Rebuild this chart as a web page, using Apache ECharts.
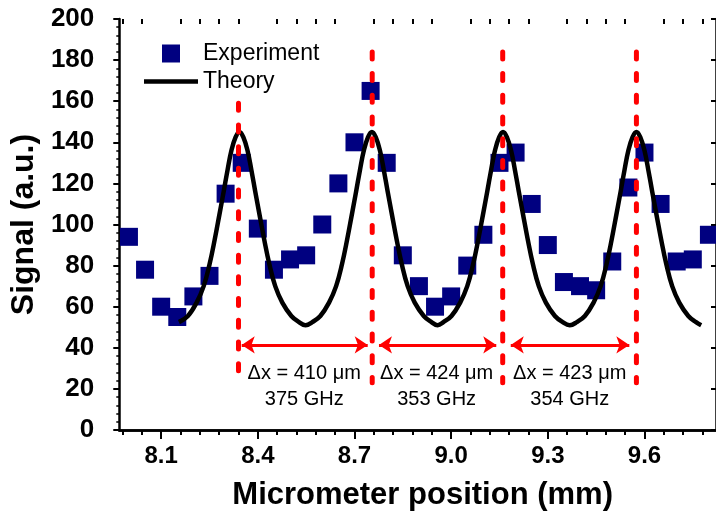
<!DOCTYPE html>
<html>
<head>
<meta charset="utf-8">
<script src="https://cdn.jsdelivr.net/npm/echarts@6/dist/echarts.min.js"></script>
<style>
  html, body { margin: 0; padding: 0; background: #ffffff; }
  #chart { width: 716px; height: 516px; }
</style>
</head>
<body>
<div id="chart"></div>
<script>
// Measured signal versus micrometer position
const positionMm = [8.00, 8.05, 8.10, 8.15, 8.20, 8.25, 8.30, 8.35, 8.40, 8.45,
                    8.50, 8.55, 8.60, 8.65, 8.70, 8.75, 8.80, 8.85, 8.90, 8.95,
                    9.00, 9.05, 9.10, 9.15, 9.20, 9.25, 9.30, 9.35, 9.40, 9.45,
                    9.50, 9.55, 9.60, 9.65, 9.70, 9.75, 9.80];
const experimentSignal = [94, 78, 60, 55, 65, 75, 115, 130, 98, 78,
                          83, 85, 100, 120, 140, 165, 130, 85, 70, 60,
                          65, 80, 95, 130, 135, 110, 90, 72, 70, 68,
                          82, 118, 135, 110, 82, 83, 95];

// Theoretical interference curve, [position (mm), signal]
const theoryCurve = [
  [8.155, 52.5], [8.183, 55.5], [8.210, 62], [8.232, 70], [8.250, 80.5], [8.266, 92.5],
  [8.281, 105], [8.294, 116], [8.306, 126.5], [8.318, 136], [8.331, 142.5], [8.343, 145],
  [8.355, 142.5], [8.368, 136], [8.380, 126.5], [8.392, 116], [8.405, 105], [8.420, 92.5],
  [8.436, 80.5], [8.454, 70], [8.476, 62], [8.504, 55.5], [8.528, 52.5], [8.548, 51],
  [8.569, 52.5], [8.594, 55.5], [8.621, 62], [8.643, 70], [8.661, 80.5], [8.677, 92.5],
  [8.692, 105], [8.705, 116], [8.717, 126.5], [8.729, 136], [8.742, 142.5], [8.754, 145],
  [8.766, 142.5], [8.779, 136], [8.791, 126.5], [8.803, 116], [8.816, 105], [8.831, 92.5],
  [8.847, 80.5], [8.865, 70], [8.887, 62], [8.915, 55.5], [8.939, 52.5], [8.958, 51],
  [8.976, 52.5], [9.001, 55.5], [9.028, 62], [9.050, 70], [9.068, 80.5], [9.084, 92.5],
  [9.099, 105], [9.112, 116], [9.124, 126.5], [9.136, 136], [9.149, 142.5], [9.161, 145],
  [9.173, 142.5], [9.186, 136], [9.198, 126.5], [9.210, 116], [9.223, 105], [9.238, 92.5],
  [9.254, 80.5], [9.272, 70], [9.294, 62], [9.322, 55.5], [9.346, 52.5], [9.368, 51],
  [9.390, 52.5], [9.415, 55.5], [9.442, 62], [9.464, 70], [9.482, 80.5], [9.498, 92.5],
  [9.513, 105], [9.526, 116], [9.538, 126.5], [9.550, 136], [9.563, 142.5], [9.575, 145],
  [9.587, 142.5], [9.600, 136], [9.612, 126.5], [9.624, 116], [9.637, 105], [9.652, 92.5],
  [9.668, 80.5], [9.686, 70], [9.708, 62], [9.736, 55.5], [9.760, 52.5], [9.776, 51]
];

// Peak markers (vertical dashed lines)
const peakX = [8.340, 8.755, 9.160, 9.575];
const peakLineTop = [159, 184, 184, 184];
const peakLineBottom = 23;

// Spacing arrows between neighbouring peaks
const arrowFrom = [8.350, 8.776, 9.185];
const arrowTo = [8.741, 9.140, 9.553];
const arrowY = 41.4;

// Spacing annotations
const noteX = [8.544, 8.955, 9.368];
const noteY = 21.4;
const noteText = ['Δx = 410 μm\n375 GHz', 'Δx = 424 μm\n353 GHz', 'Δx = 423 μm\n354 GHz'];

// Axes
const xMin = 7.97, xMax = 9.822;
const xTicks = [8.1, 8.4, 8.7, 9.0, 9.3, 9.6];
const xMinorTicks = [];
for (let v = 7.98; v < xMax; v += 0.06) {
  const r = Math.round(v * 100) / 100;
  if (!xTicks.some(t => Math.abs(t - r) < 1e-6)) xMinorTicks.push(r);
}
const yMin = 0, yMax = 200, yStep = 20;

const FONT = 'Liberation Sans, Arial, Helvetica, sans-serif';
const RED = '#ff0000';
const NAVY = '#000080';
const AXIS_LINE = { show: true, lineStyle: { color: '#000', width: 2.5 } };

const chart = echarts.init(document.getElementById('chart'), null, { renderer: 'canvas' });

const dashSeries = peakX.map((x, i) => ({
  type: 'line',
  name: 'peak' + i,
  xAxisIndex: 0, yAxisIndex: 0,
  data: [[x, peakLineTop[i]], [x, peakLineBottom]],
  symbol: 'none',
  silent: true,
  z: 5,
  lineStyle: { color: RED, width: 5, type: [7, 14.7], cap: 'round' }
}));

const option = {
  animation: false,
  textStyle: { fontFamily: FONT },
  grid: { left: 117, right: -1, top: 19, bottom: 86, containLabel: false },
  legend: {
    orient: 'vertical',
    left: 139,
    top: 37,
    itemWidth: 54,
    itemHeight: 18,
    itemGap: 5,
    selectedMode: false,
    textStyle: { fontFamily: FONT, fontSize: 23, color: '#000', lineHeight: 23 },
    data: [
      { name: 'Experiment', icon: 'path://M0,0L10,0L10,10L0,10Z', itemStyle: { color: NAVY } },
      { name: 'Theory', icon: 'path://M0,0L54,0L54,4.5L0,4.5Z', itemStyle: { color: '#000' } }
    ]
  },
  xAxis: [
    {
      type: 'value', position: 'bottom', min: xMin, max: xMax,
      axisLine: AXIS_LINE,
      axisTick: { show: true, inside: false, length: 9, customValues: xTicks, lineStyle: { color: '#000', width: 2 } },
      axisLabel: {
        show: true, customValues: xTicks, margin: 14,
        formatter: v => v.toFixed(1),
        fontFamily: FONT, fontSize: 24, fontWeight: 'bold', color: '#000', lineHeight: 24
      },
      splitLine: { show: false },
      name: 'Micrometer position (mm)',
      nameLocation: 'middle',
      nameGap: 50,
      nameTextStyle: { fontFamily: FONT, fontSize: 31, fontWeight: 'bold', color: '#000', lineHeight: 31, padding: [0, 0, 0, 10] }
    },
    {
      type: 'value', position: 'bottom', min: xMin, max: xMax,
      axisLine: { show: false },
      axisTick: { show: true, inside: false, length: 5, customValues: xMinorTicks, lineStyle: { color: '#000', width: 2 } },
      axisLabel: { show: false },
      splitLine: { show: false }
    },
    {
      type: 'value', position: 'top', min: xMin, max: xMax,
      axisLine: AXIS_LINE,
      axisTick: { show: true, inside: true, length: 8, customValues: xTicks, lineStyle: { color: '#000', width: 2 } },
      axisLabel: { show: false },
      splitLine: { show: false }
    },
    {
      type: 'value', position: 'top', min: xMin, max: xMax,
      axisLine: { show: false },
      axisTick: { show: true, inside: true, length: 5, customValues: xMinorTicks, lineStyle: { color: '#000', width: 2 } },
      axisLabel: { show: false },
      splitLine: { show: false }
    }
  ],
  yAxis: [
    {
      type: 'value', position: 'left', min: yMin, max: yMax, interval: yStep,
      axisLine: AXIS_LINE,
      axisTick: { show: true, inside: false, length: 6, lineStyle: { color: '#000', width: 2 } },
      minorTick: { show: true, splitNumber: 5, length: 3, lineStyle: { color: '#000', width: 1.5 } },
      axisLabel: { show: true, margin: 25, fontFamily: FONT, fontSize: 26, fontWeight: 'bold', color: '#000' },
      splitLine: { show: false },
      minorSplitLine: { show: false },
      name: 'Signal (a.u.)',
      nameLocation: 'middle',
      nameGap: 72,
      nameTextStyle: { fontFamily: FONT, fontSize: 32, fontWeight: 'bold', color: '#000', lineHeight: 32 }
    },
    {
      type: 'value', position: 'left', min: yMin, max: yMax, interval: yStep,
      axisLine: { show: false },
      axisTick: { show: false },
      minorTick: { show: true, splitNumber: 5, length: 3, lineStyle: { color: '#000', width: 1.5 } },
      axisLabel: { show: false },
      splitLine: { show: false }
    },
    {
      type: 'value', position: 'right', min: yMin, max: yMax, interval: yStep,
      axisLine: AXIS_LINE,
      axisTick: { show: true, inside: true, length: 5, lineStyle: { color: '#000', width: 2 } },
      axisLabel: { show: false },
      splitLine: { show: false }
    }
  ],
  series: [
    {
      type: 'scatter',
      name: 'Experiment',
      xAxisIndex: 0, yAxisIndex: 0,
      data: positionMm.map((x, i) => [x, experimentSignal[i]]),
      symbol: 'rect',
      symbolSize: 18,
      itemStyle: { color: NAVY, opacity: 1 },
      z: 2
    },
    {
      type: 'line',
      name: 'Theory',
      xAxisIndex: 0, yAxisIndex: 0,
      data: theoryCurve,
      symbol: 'none',
      smooth: 0.4,
      itemStyle: { color: '#000' },
      lineStyle: { color: '#000', width: 4.5 },
      z: 3
    },
    ...dashSeries,
    {
      type: 'line',
      name: 'spacing',
      xAxisIndex: 0, yAxisIndex: 0,
      data: [],
      silent: true,
      z: 6,
      markLine: {
        silent: true,
        animation: false,
        symbol: ['arrow', 'arrow'],
        symbolSize: 13,
        label: { show: false },
        lineStyle: { color: RED, width: 3, type: 'solid' },
        data: arrowFrom.map((x, i) => [
          { coord: [x, arrowY] },
          { coord: [arrowTo[i], arrowY] }
        ])
      }
    },
    {
      type: 'scatter',
      name: 'notes',
      xAxisIndex: 0, yAxisIndex: 0,
      data: noteX.map((x, i) => ({ value: [x, noteY], name: noteText[i] })),
      symbolSize: 0,
      itemStyle: { color: '#000', opacity: 1 },
      silent: true,
      z: 7,
      label: {
        show: true,
        position: 'inside',
        formatter: p => p.name,
        fontFamily: FONT,
        fontSize: 20,
        lineHeight: 26,
        color: '#000',
        opacity: 1,
        textBorderWidth: 0,
        align: 'center'
      }
    }
  ]
};

chart.setOption(option);
</script>
</body>
</html>
